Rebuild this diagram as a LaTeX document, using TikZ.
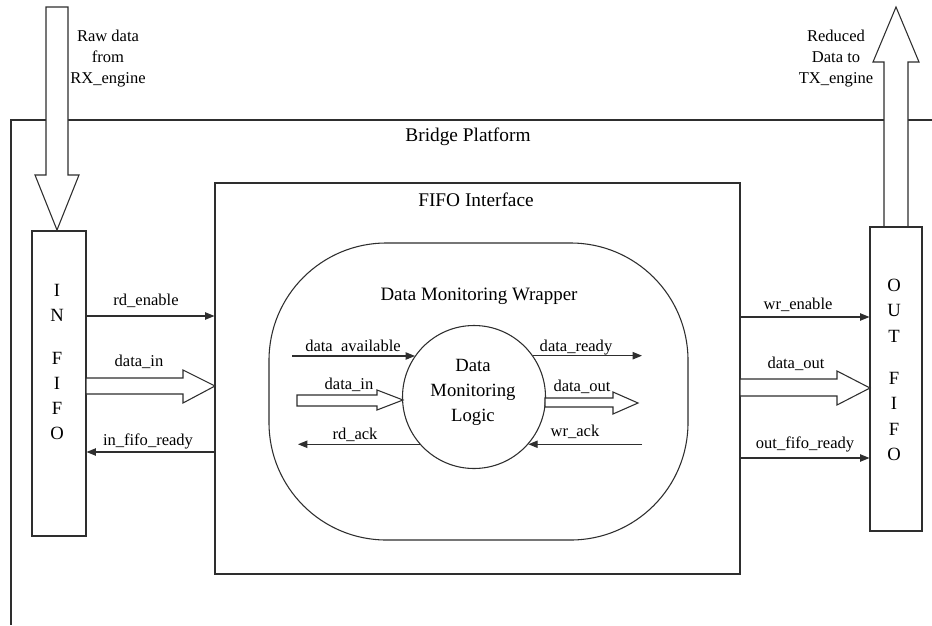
\documentclass[tikz,border=0pt]{standalone}
\usepackage{fontspec}
\setmainfont{Liberation Serif}
\usetikzlibrary{arrows.meta,calc}
\begin{document}
\begin{tikzpicture}[x=0.75pt,y=-0.75pt,
  line/.style={draw=black!82,line width=0.8pt},
  sig/.style={line,-{Triangle[length=7pt,width=5.5pt]}},
  fat/.style={line,fill=white,line join=miter},
  lbl/.style={font=\fontsize{12.4}{15.75}\selectfont,inner sep=0pt,align=center},
  ttl/.style={font=\fontsize{14.5}{18}\selectfont,inner sep=0pt,align=center},
  box/.style={line,fill=white,inner sep=0pt,rectangle}]
\useasboundingbox (0,0) rectangle (932,625);

% Bridge platform (open at right and bottom)
\coordinate (bpTL) at (11,120);
\coordinate (bpR) at (932,120);
\coordinate (bpB) at (11,625);
\draw[line] (bpR) -- (bpTL) -- (bpB);
\node[ttl] (bptitle) at (468,137) {Bridge Platform};

% big input / output arrows
\draw[fat] (46,7) -- (68,7) -- (68,175) -- (79,175) -- (57,230) -- (35,175) -- (46,175) -- cycle;
\draw[fat] (884,227) -- (884,62) -- (873,62) -- (896,7) -- (919,62) -- (908,62) -- (908,227) -- cycle;
\node[lbl] (rxtxt) at (108,59) {Raw data\\from\\RX\_engine};
\node[lbl] (txtxt) at (836,59) {Reduced\\Data to\\TX\_engine};

% FIFOs
\node[box,minimum width=40.5pt,minimum height=228.75pt] (infifo) at (59,383.5) {};
\node[font=\fontsize{14}{18.75}\selectfont,align=center,inner sep=0pt] (inletters) at (57,361.5) {I\\N\\[13.5pt]F\\I\\F\\O};
\node[box,minimum width=39pt,minimum height=228pt] (outfifo) at (896,379) {};
\node[font=\fontsize{14}{19.2}\selectfont,align=center,inner sep=0pt] (outletters) at (894,370) {O\\U\\T\\[12pt]F\\I\\F\\O};

% FIFO interface
\node[box,minimum width=393.75pt,minimum height=293.25pt] (fifoif) at (477.5,378.5) {};
\node[ttl] (fifotitle) at (476,200) {FIFO Interface};

% wrapper
\node[box,minimum width=314.25pt,minimum height=222.75pt,rounded corners=88pt] (wrapper) at (478.5,391.5) {};
\node[ttl,font=\fontsize{14.2}{18}\selectfont] (wraptitle) at (479,296) {Data Monitoring Wrapper};

% logic circle
\node[line,circle,minimum size=107.25pt,inner sep=0pt] (logic) at (474,397) {};
\node[font=\fontsize{14}{18.75}\selectfont,align=center,inner sep=0pt] (logictxt) at (473,392) {Data\\Monitoring\\Logic};

% outer signals
\coordinate (yRE) at (0,316);
\coordinate (yIFR) at (0,452);
\coordinate (yWE) at (0,317);
\coordinate (yOFR) at (0,458);
\draw[sig] (infifo.east |- yRE) -- (fifoif.west |- yRE);
\draw[sig] (fifoif.west |- yIFR) -- (infifo.east |- yIFR);
\draw[sig] (fifoif.east |- yWE) -- (outfifo.west |- yWE);
\draw[sig] (fifoif.east |- yOFR) -- (outfifo.west |- yOFR);
\draw[fat] (86,378) -- (183,378) -- (183,370) -- (215,386) -- (183,403) -- (183,394) -- (86,394) -- cycle;
\draw[fat] (740,379) -- (837,379) -- (837,371) -- (870,388) -- (837,405) -- (837,396) -- (740,396) -- cycle;
\node[lbl] (lre) at (146,301) {rd\_enable};
\node[lbl] (ldi) at (139,362) {data\_in};
\node[lbl] (lifr) at (148,441) {in\_fifo\_ready};
\node[lbl] (lwe) at (798,305) {wr\_enable};
\node[lbl] (ldo) at (796,364) {data\_out};
\node[lbl] (lofr) at (805,444) {out\_fifo\_ready};

% inner signals
\coordinate (daL) at (292,356);
\coordinate (drR) at (642,0);
\coordinate (raL) at (298,0);
\coordinate (waR) at (642,0);
\draw[sig] (daL) -- (daL -| logic.145);
\draw[sig] (logic.35) -- (logic.35 -| drR);
\draw[sig] (logic.221) -- (logic.221 -| raL);
\draw[sig] (waR |- logic.-41) -- (logic.-41);
\draw[fat] (297,395) -- (377,395) -- (377,390) -- (403,400) -- (377,410) -- (377,406) -- (297,406) -- cycle;
\draw[fat] (545,398) -- (613,398) -- (613,392) -- (638,403) -- (613,414) -- (613,407) -- (545,407) -- cycle;
\node[lbl] (lda) at (353,346) {data\enspace available};
\node[lbl] (ldi2) at (349,385) {data\_in};
\node[lbl] (lra) at (355,435) {rd\_ack};
\node[lbl] (ldr) at (576,348) {data\_ready};
\node[lbl] (ldo2) at (582,387) {data\_out};
\node[lbl] (lwa) at (575,432) {wr\_ack};
\end{tikzpicture}
\end{document}
